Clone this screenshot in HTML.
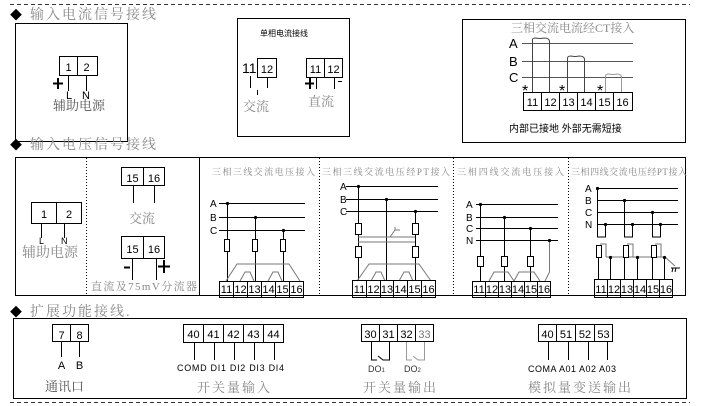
<!DOCTYPE html>
<html><head><meta charset="utf-8"><style>
html,body{margin:0;padding:0;background:#fff;}
svg{display:block;}
text{font-family:"Liberation Sans","Noto Sans CJK SC",sans-serif;}
.cn{font-family:"Liberation Serif","Noto Serif CJK SC",serif;fill:#888;}
.t{font-size:11px;fill:#000;text-anchor:middle;}
</style></head><body>
<svg width="712" height="406" viewBox="0 0 712 406" xmlns="http://www.w3.org/2000/svg">
<g fill="none" stroke="#000" stroke-width="1">
<line x1="10" y1="4.5" x2="690" y2="4.5" stroke-dasharray="4,3" stroke="#333"/>
<line x1="10" y1="402.5" x2="690" y2="402.5" stroke-dasharray="4,3" stroke="#333"/>
<rect x="15.5" y="23.5" width="112" height="118"/>
<rect x="237.5" y="18.5" width="112" height="118"/>
<rect x="462.5" y="19.5" width="223" height="123"/>
<rect x="59.5" y="56.5" width="38" height="19"/><line x1="77.5" y1="56" x2="77.5" y2="76"/>
<line x1="68.5" y1="76" x2="68.5" y2="91"/><line x1="86.5" y1="76" x2="86.5" y2="91"/>
<line x1="53" y1="83.5" x2="63" y2="83.5" stroke-width="2"/><line x1="58" y1="78" x2="58" y2="89" stroke-width="2"/>
<rect x="257.5" y="58.5" width="19" height="19"/>
<line x1="250.5" y1="76" x2="250.5" y2="88"/><line x1="267.5" y1="78" x2="267.5" y2="88"/><line x1="257.5" y1="90" x2="257.5" y2="95"/>
<rect x="306.5" y="58.5" width="36" height="19"/><line x1="324.5" y1="58" x2="324.5" y2="78"/>
<line x1="316.5" y1="78" x2="316.5" y2="89"/><line x1="334.5" y1="78" x2="334.5" y2="89"/>
<line x1="305" y1="83.5" x2="314" y2="83.5" stroke-width="2"/><line x1="310" y1="78" x2="310" y2="89" stroke-width="2"/>
<line x1="338" y1="81.5" x2="342" y2="81.5"/>
<line x1="522" y1="43.5" x2="633" y2="43.5" stroke="#555"/>
<line x1="522" y1="61.5" x2="633" y2="61.5" stroke="#555"/>
<line x1="522" y1="77.5" x2="633" y2="77.5" stroke="#555"/>
<rect x="523.5" y="92.5" width="109" height="18"/>
<g><line x1="541.5" y1="92" x2="541.5" y2="111"/><line x1="559.5" y1="92" x2="559.5" y2="111"/><line x1="577.5" y1="92" x2="577.5" y2="111"/><line x1="595.5" y1="92" x2="595.5" y2="111"/><line x1="613.5" y1="92" x2="613.5" y2="111"/></g>
<path d="M532.5 92 V40 Q532 38 536 38 Q540 39 544 38 Q549 38 549.5 41 V92" stroke="#444"/>
<path d="M567.5 92 V59 Q567 56 571 56 Q575 57 579 56 Q584 56 584.5 59 V92" stroke="#444"/>
<path d="M605.5 92 V77 Q605 74 609 74 Q613 75 617 74 Q621 74 621.5 77 V92" stroke="#999"/>
<rect x="15.5" y="157.5" width="670" height="138"/>
<line x1="86.5" y1="158" x2="86.5" y2="295" stroke-dasharray="1,2"/>
<line x1="199.5" y1="158" x2="199.5" y2="295"/>
<line x1="319.5" y1="158" x2="319.5" y2="295" stroke-dasharray="1,2"/>
<line x1="453.5" y1="158" x2="453.5" y2="295" stroke-dasharray="1,2"/>
<line x1="568.5" y1="158" x2="568.5" y2="295" stroke-dasharray="1,2"/>
<rect x="31.5" y="202.5" width="50" height="21"/><line x1="56.5" y1="202" x2="56.5" y2="224"/>
<line x1="41.5" y1="224" x2="41.5" y2="238"/><line x1="64.5" y1="224" x2="64.5" y2="238"/>
<rect x="121.5" y="167.5" width="43" height="18"/><line x1="143.5" y1="167" x2="143.5" y2="186"/>
<line x1="133.5" y1="186" x2="133.5" y2="203"/><line x1="154.5" y1="186" x2="154.5" y2="203"/>
<rect x="121.5" y="236.5" width="43" height="22"/><line x1="143.5" y1="236" x2="143.5" y2="259"/>
<line x1="132.5" y1="259" x2="132.5" y2="280"/><line x1="156.5" y1="259" x2="156.5" y2="280"/>
<line x1="124" y1="267.5" x2="130" y2="267.5" stroke-width="2"/>
<line x1="158" y1="266.5" x2="170" y2="266.5" stroke-width="2"/><line x1="164" y1="260" x2="164" y2="273" stroke-width="2"/>
<line x1="219" y1="203.5" x2="305" y2="203.5"/><line x1="219" y1="217.5" x2="305" y2="217.5"/><line x1="219" y1="230.5" x2="305" y2="230.5"/>
<line x1="227.5" y1="203" x2="227.5" y2="281"/><line x1="255.5" y1="217" x2="255.5" y2="281"/><line x1="283.5" y1="230" x2="283.5" y2="281"/>
<rect x="224.5" y="239.5" width="5" height="12" fill="#fff"/><rect x="252.5" y="239.5" width="5" height="12" fill="#fff"/><rect x="280.5" y="239.5" width="5" height="12" fill="#fff"/>
<path d="M226 281 L237 264 H289 L300 281 M240 281 L245 272 H250 L254 281 M268 281 L273 272 H278 L282 281" stroke="#777"/>
<rect x="219.5" y="281.5" width="84" height="16"/>
<path d="M233.5 281V297M247.5 281V297M261.5 281V297M275.5 281V297M289.5 281V297"/>
<line x1="346" y1="186.5" x2="438" y2="186.5"/><line x1="346" y1="199.5" x2="438" y2="199.5"/><line x1="346" y1="211.5" x2="438" y2="211.5"/>
<line x1="358.5" y1="186" x2="358.5" y2="281"/><line x1="386.5" y1="199" x2="386.5" y2="281"/><line x1="415.5" y1="211" x2="415.5" y2="281"/>
<rect x="355.5" y="223.5" width="6" height="11" fill="#fff"/><rect x="412.5" y="223.5" width="6" height="11" fill="#fff"/>
<rect x="355.5" y="246.5" width="6" height="11" fill="#fff"/><rect x="412.5" y="246.5" width="6" height="11" fill="#fff"/>
<path d="M358 237 H415 M358 242 H415 M390 237 L395 230 H400 M395 230 V227" stroke="#777"/>
<path d="M357 281 L369 264 H419 L431 281 M371 281 L376 272 H381 L385 281 M399 281 L404 272 H409 L413 281" stroke="#777"/>
<rect x="352.5" y="280.5" width="83" height="17"/>
<path d="M366.5 280V297M380.5 280V297M393.5 280V297M407.5 280V297M421.5 280V297"/>
<line x1="476" y1="204.5" x2="558" y2="204.5"/><line x1="476" y1="217.5" x2="558" y2="217.5"/><line x1="476" y1="228.5" x2="558" y2="228.5"/><line x1="476" y1="240.5" x2="558" y2="240.5"/>
<line x1="480.5" y1="204" x2="480.5" y2="281"/><line x1="504.5" y1="217" x2="504.5" y2="281"/><line x1="530.5" y1="228" x2="530.5" y2="281"/>
<rect x="477.5" y="256.5" width="6" height="10" fill="#fff"/><rect x="501.5" y="256.5" width="6" height="10" fill="#fff"/><rect x="527.5" y="256.5" width="6" height="10" fill="#fff"/>
<path d="M549.5 240 V272 L545 281 M489 281 L494 272 H508 L514 281 L519 272 H534 L540 281 M514 281 L519 272" stroke="#777"/>
<rect x="472.5" y="281.5" width="78" height="16"/>
<path d="M485.5 281V297M498.5 281V297M511.5 281V297M524.5 281V297M537.5 281V297"/>
<line x1="598" y1="188.5" x2="678" y2="188.5"/><line x1="598" y1="200.5" x2="678" y2="200.5"/><line x1="598" y1="212.5" x2="678" y2="212.5"/><line x1="598" y1="224.5" x2="678" y2="224.5"/>
<path d="M597.5 188 V237 H605.5 V224 M624.5 200 V237 H632.5 V224 M652.5 212 V237 H660.5 V224"/>
<path d="M600 244 H606 V257 M627 244 H633 V257 M655 244 H661 V257 M606 257 H665 L675 266" stroke="#777"/>
<rect x="596.5" y="245.5" width="5" height="12" fill="#fff"/><rect x="623.5" y="245.5" width="5" height="12" fill="#fff"/><rect x="651.5" y="245.5" width="5" height="12" fill="#fff"/>
<path d="M598.5 257 V279 M610.5 257 V279 M624.5 257 V279 M637.5 257 V279 M652.5 257 V279 M664.5 257 V279"/>
<path d="M671 268 H680 M673 268 L672 272 M676 268 L675 272"/>
<rect x="594.5" y="279.5" width="78" height="18"/>
<path d="M607.5 279V297M620.5 279V297M633.5 279V297M646.5 279V297M659.5 279V297"/>
<rect x="13.5" y="318.5" width="673" height="80"/>
<rect x="52.5" y="324.5" width="36" height="17"/><line x1="70.5" y1="324" x2="70.5" y2="342"/>
<line x1="61.5" y1="342" x2="61.5" y2="357"/><line x1="79.5" y1="342" x2="79.5" y2="357"/>
<rect x="183.5" y="324.5" width="100" height="18"/>
<path d="M203.5 324V342M223.5 324V342M243.5 324V342M263.5 324V342"/>
<path d="M194.5 342V360M214.5 342V360M234.5 342V360M254.5 342V360M274.5 342V360"/>
<rect x="361.5" y="324.5" width="72" height="17"/>
<path d="M379.5 324V342M397.5 324V342M415.5 324V342"/>
<path d="M371.5 342V360H377 M378 356 L383 360 H389.5 V342"/>
<path d="M406.5 342V360H412 M413 356 L418 360 H424.5 V342" stroke="#999"/>
<rect x="538.5" y="324.5" width="74" height="17"/>
<path d="M556.5 324V342M575.5 324V342M594.5 324V342"/>
<path d="M548.5 342V360M568.5 342V360M588.5 342V360M607.5 342V360"/>
</g>
<g fill="#000">
<circle cx="227.5" cy="203.5" r="1.6"/><circle cx="255.5" cy="217.5" r="1.6"/><circle cx="283.5" cy="230.5" r="1.6"/>
<circle cx="358.5" cy="186.5" r="1.6"/><circle cx="386.5" cy="199.5" r="1.6"/><circle cx="415.5" cy="211.5" r="1.6"/>
<circle cx="480.5" cy="204.5" r="1.6"/><circle cx="504.5" cy="217.5" r="1.6"/><circle cx="530.5" cy="228.5" r="1.6"/><circle cx="549.5" cy="240.5" r="1.6"/>
<circle cx="597.5" cy="188.5" r="1.6"/><circle cx="624.5" cy="200.5" r="1.6"/><circle cx="652.5" cy="212.5" r="1.6"/>
<circle cx="605.5" cy="224.5" r="1.6"/><circle cx="632.5" cy="224.5" r="1.6"/><circle cx="660.5" cy="224.5" r="1.6"/>
<circle cx="610.5" cy="257.5" r="1.6"/><circle cx="637.5" cy="257.5" r="1.6"/><circle cx="664.5" cy="257.5" r="1.6"/>
</g>
<text x="10" y="19" font-size="12">◆</text><text class="cn" x="30" y="19" font-size="14" letter-spacing="2">输入电流信号接线</text>
<text x="10" y="149" font-size="12">◆</text><text class="cn" x="30" y="149" font-size="14" letter-spacing="2">输入电压信号接线</text>
<text x="10" y="316" font-size="12">◆</text><text class="cn" x="30" y="316" font-size="14" letter-spacing="2">扩展功能接线.</text>
<text class="t" x="68.5" y="71" font-size="14">1</text><text class="t" x="86.5" y="71" font-size="14">2</text>
<text class="t" x="69" y="99" font-size="10">L</text><text class="t" x="86" y="99" font-size="10">N</text>
<text class="cn" x="53" y="110" font-size="13" style="fill:#555">辅助电源</text>
<text x="260" y="36" font-size="8" fill="#000">单相电流接线</text>
<text x="242" y="73" font-size="14">11</text><text class="t" x="267" y="73" font-size="14">12</text>
<text class="t" x="315.5" y="73" font-size="14">11</text><text class="t" x="333.5" y="73" font-size="14">12</text>
<text class="cn" x="243" y="111" font-size="13">交流</text>
<text class="cn" x="308" y="106" font-size="13">直流</text>
<text class="cn" x="511" y="32" font-size="12">三相交流电流经CT接入</text>
<text x="509" y="48" font-size="13">A</text><text x="509" y="66" font-size="13">B</text><text x="509" y="82" font-size="13">C</text>
<text x="522" y="96" font-size="16">*</text><text x="559" y="96" font-size="16">*</text><text x="597" y="96" font-size="16">*</text>
<g class="t" font-size="13"><text x="532.5" y="106">11</text><text x="550.5" y="106">12</text><text x="568.5" y="106">13</text><text x="586.5" y="106">14</text><text x="604.5" y="106">15</text><text x="622.5" y="106">16</text></g>
<text x="509" y="132" font-size="10" fill="#000">内部已接地 外部无需短接</text>
<text class="t" x="44" y="218" font-size="14">1</text><text class="t" x="69" y="218" font-size="14">2</text>
<text x="39" y="244" font-size="9">L</text><text x="61" y="244" font-size="9">N</text>
<text class="cn" x="22" y="257" font-size="14">辅助电源</text>
<text class="t" x="132.5" y="182" font-size="15">15</text><text class="t" x="154" y="182" font-size="15">16</text>
<text class="cn" x="129" y="223" font-size="13">交流</text>
<text class="t" x="132.5" y="253" font-size="15">15</text><text class="t" x="154" y="253" font-size="15">16</text>
<text class="cn" x="91" y="290" font-size="11" textLength="106">直流及75mV分流器</text>
<text class="cn" x="212" y="175" font-size="9" textLength="103">三相三线交流电压接入</text>
<text x="210" y="207" font-size="10">A</text><text x="210" y="221" font-size="10">B</text><text x="210" y="234" font-size="10">C</text>
<g class="t" font-size="11"><text x="226.5" y="293">11</text><text x="240.5" y="293">12</text><text x="254.5" y="293">13</text><text x="268.5" y="293">14</text><text x="282.5" y="293">15</text><text x="296.5" y="293">16</text></g>
<text class="cn" x="322" y="175" font-size="9" textLength="128">三相三线交流电压经PT接入</text>
<text x="340" y="190" font-size="10">A</text><text x="340" y="203" font-size="10">B</text><text x="340" y="215" font-size="10">C</text>
<g class="t" font-size="11"><text x="359.5" y="293">11</text><text x="373.5" y="293">12</text><text x="387" y="293">13</text><text x="400.5" y="293">14</text><text x="414.5" y="293">15</text><text x="428.5" y="293">16</text></g>
<text class="cn" x="457" y="175" font-size="9" textLength="107">三相四线交流电压接入</text>
<text x="466" y="208" font-size="10">A</text><text x="466" y="221" font-size="10">B</text><text x="466" y="232" font-size="10">C</text><text x="466" y="244" font-size="10">N</text>
<g class="t" font-size="11"><text x="479" y="293">11</text><text x="492" y="293">12</text><text x="505" y="293">13</text><text x="518" y="293">14</text><text x="531" y="293">15</text><text x="544" y="293">16</text></g>
<text class="cn" x="571" y="175" font-size="9" textLength="116">三相四线交流电压经PT接入</text>
<text x="585" y="192" font-size="10">A</text><text x="585" y="204" font-size="10">B</text><text x="585" y="216" font-size="10">C</text><text x="585" y="228" font-size="10">N</text>
<g class="t" font-size="11"><text x="601" y="293">11</text><text x="614" y="293">12</text><text x="627" y="293">13</text><text x="640" y="293">14</text><text x="653" y="293">15</text><text x="666" y="293">16</text></g>
<text class="t" x="61.5" y="339" font-size="15">7</text><text class="t" x="79.5" y="339" font-size="15">8</text>
<text class="t" x="61.5" y="369" font-size="9">A</text><text class="t" x="79.5" y="369" font-size="9">B</text>
<text class="cn" x="45" y="391" font-size="13" style="fill:#555">通讯口</text>
<g class="t" font-size="13"><text x="193.5" y="338">40</text><text x="213.5" y="338">41</text><text x="233.5" y="338">42</text><text x="253.5" y="338">43</text><text x="273.5" y="338">44</text></g>
<text x="177" y="371" font-size="9" textLength="107">COMD DI1 DI2 DI3 DI4</text>
<text class="cn" x="197" y="392" font-size="13" letter-spacing="2">开关量输入</text>
<g class="t" font-size="13"><text x="370.5" y="338">30</text><text x="388.5" y="338">31</text><text x="406.5" y="338">32</text><text x="424.5" y="338" fill="#777">33</text></g>
<text x="368" y="372" font-size="9" fill="#333">DO<tspan font-size="6">1</tspan></text>
<text x="404" y="372" font-size="9" fill="#333">DO<tspan font-size="6">2</tspan></text>
<text class="cn" x="363" y="392" font-size="13" letter-spacing="2">开关量输出</text>
<g class="t" font-size="13"><text x="547.5" y="338">40</text><text x="566" y="338">51</text><text x="585" y="338">52</text><text x="603.5" y="338">53</text></g>
<text x="528" y="372" font-size="9" textLength="88">COMA A01 A02 A03</text>
<text class="cn" x="528" y="392" font-size="13" letter-spacing="2">模拟量变送输出</text>
</svg>
</body></html>
